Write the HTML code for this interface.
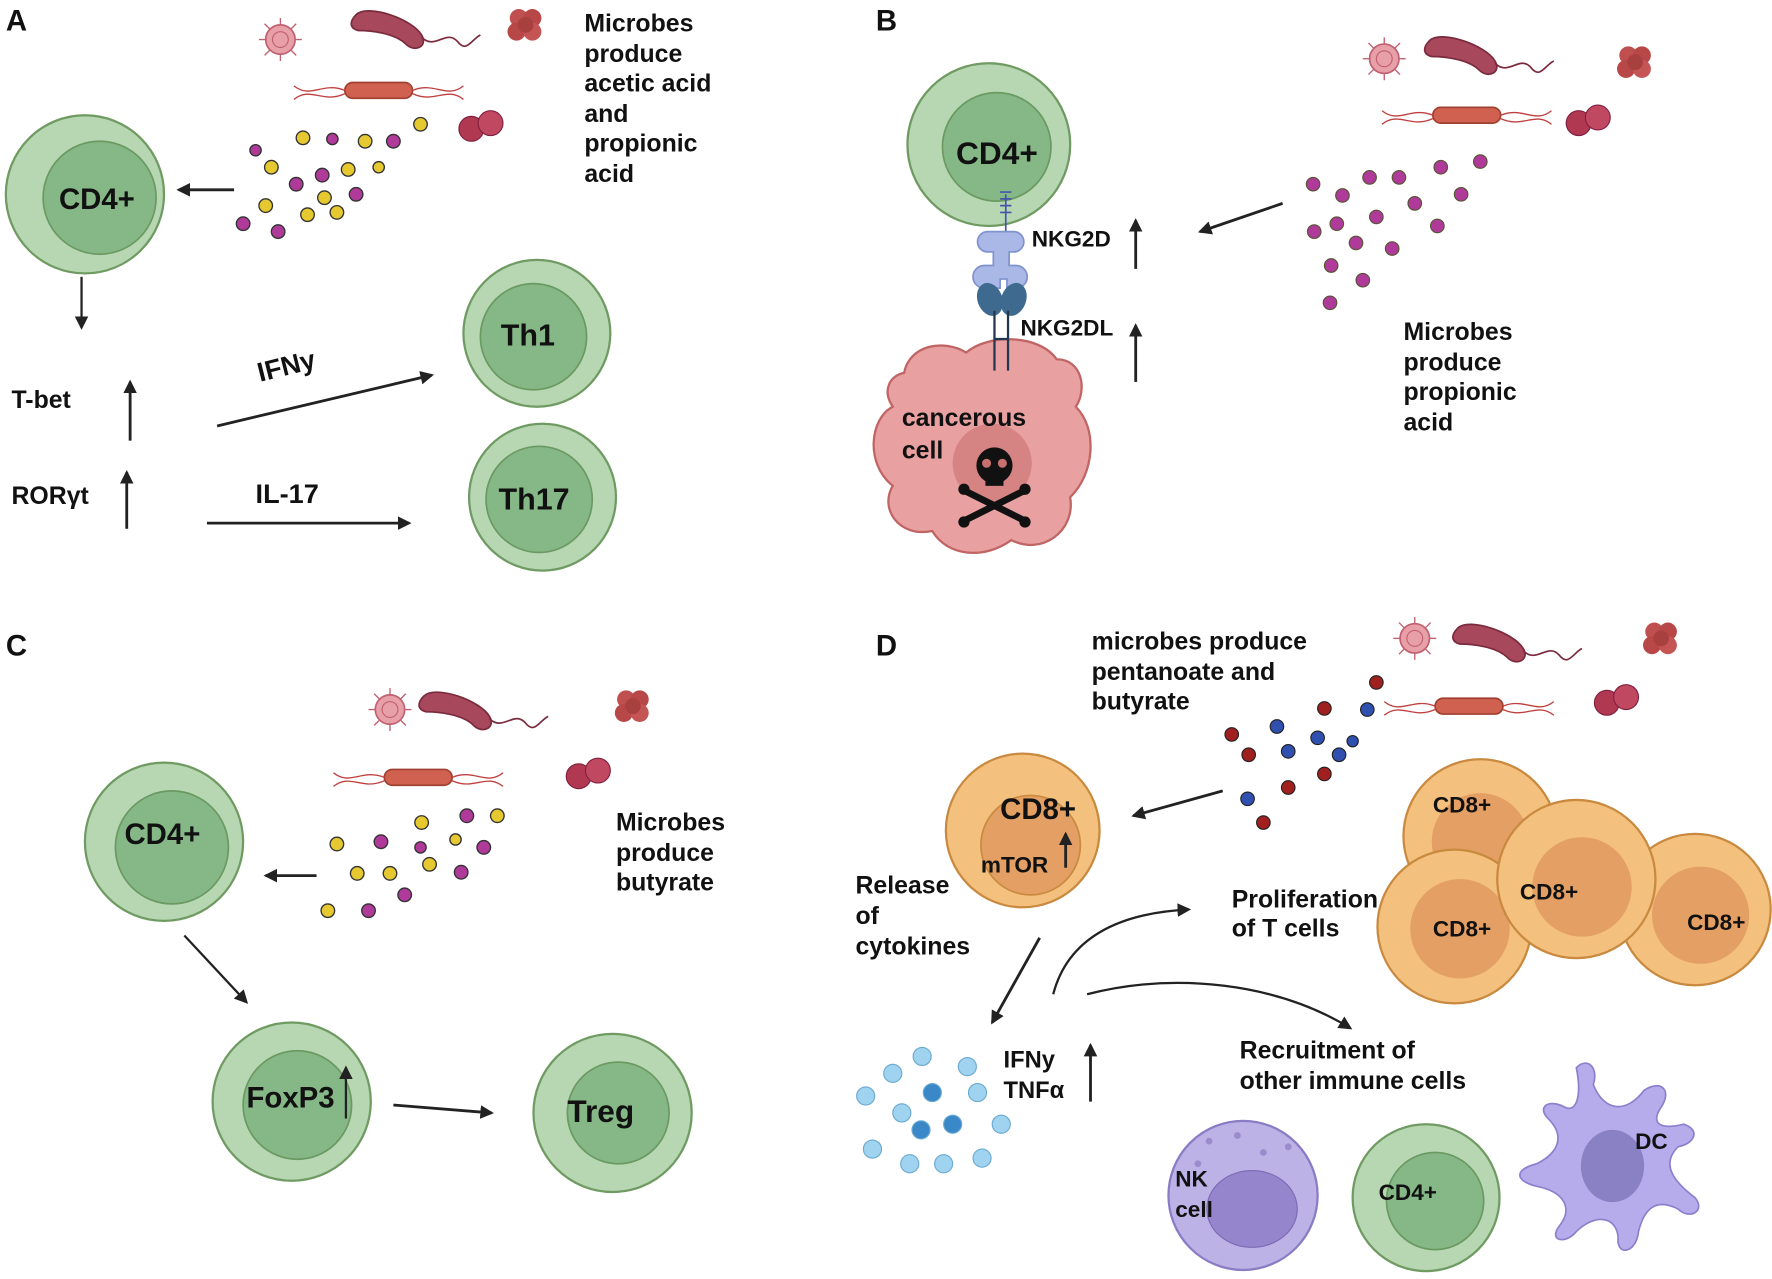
<!DOCTYPE html>
<html><head><meta charset="utf-8"><style>
html,body{margin:0;padding:0;background:#fff;}
svg{display:block;}
text{font-family:"Liberation Sans",sans-serif;font-weight:bold;fill:#111;}
</style></head><body>
<svg width="1772" height="1279" viewBox="0 0 1568 1132" xmlns="http://www.w3.org/2000/svg">
<defs>
<marker id="ah" markerWidth="12" markerHeight="12" refX="10" refY="6" orient="auto" markerUnits="userSpaceOnUse"><path d="M0,0 L12,6 L0,12 z" fill="#222"/></marker>
<g id="vir"><circle r="13" fill="#e8a0a8" stroke="#c06070" stroke-width="1.5"/><circle r="7" fill="none" stroke="#c06070" stroke-width="1"/>
<g stroke="#c06070" stroke-width="1.2"><line x1="0" y1="-13" x2="0" y2="-19"/><line x1="0" y1="13" x2="0" y2="19"/><line x1="-13" y1="0" x2="-19" y2="0"/><line x1="13" y1="0" x2="19" y2="0"/><line x1="9" y1="9" x2="14" y2="14"/><line x1="-9" y1="-9" x2="-14" y2="-14"/><line x1="9" y1="-9" x2="14" y2="-14"/><line x1="-9" y1="9" x2="-14" y2="14"/></g></g>
<g id="bac"><path d="M-30,-12 C-20,-22 20,-8 28,6 C34,16 22,22 14,14 C4,4 -18,2 -28,2 C-36,0 -36,-6 -30,-12z" fill="#a8485c" stroke="#7a2a3c" stroke-width="1.5"/><path d="M28,8 C40,20 50,0 60,12 C68,22 72,10 80,6" fill="none" stroke="#7a2a3c" stroke-width="1.5"/></g>
<g id="clu"><circle cx="-6" cy="-6" r="8" fill="#c05050"/><circle cx="6" cy="-6" r="8" fill="#b84848"/><circle cx="-8" cy="6" r="8" fill="#b84848"/><circle cx="6" cy="6" r="8" fill="#c55555"/><circle cx="0" cy="0" r="7" fill="#a84040"/></g>
<g id="rod"><rect x="-30" y="-7" width="60" height="14" rx="7" fill="#d06050" stroke="#a04030" stroke-width="1.5"/><path d="M-30,0 C-50,-8 -60,8 -75,-4 M-30,3 C-50,12 -60,-4 -75,8 M30,0 C50,-8 60,8 75,-4 M30,3 C50,12 60,-4 75,8" fill="none" stroke="#c04040" stroke-width="1.2"/></g>
<g id="dip"><circle cx="-8" cy="2" r="11" fill="#b03850" stroke="#802040"/><circle cx="9" cy="-3" r="11" fill="#c04860" stroke="#802040"/></g>
</defs>

<!-- PANEL A -->
<text x="5" y="27" font-size="26">A</text>
<use href="#vir" x="248" y="35"/><use href="#bac" x="345" y="25"/><use href="#clu" x="465" y="22"/><use href="#rod" x="335" y="80"/><use href="#dip" x="425" y="112"/>
<g font-size="22"><text x="517" y="28">Microbes</text><text x="517" y="55">produce</text><text x="517" y="81">acetic acid</text><text x="517" y="108">and</text><text x="517" y="134">propionic</text><text x="517" y="161">acid</text></g>
<circle cx="75" cy="172" r="70" fill="#b7d7b3" stroke="#6f9b62" stroke-width="2"/><circle cx="88" cy="175" r="50" fill="#85b886" stroke="#6a9a62" stroke-width="1.5"/>
<text x="52" y="185" font-size="26">CD4+</text>
<line x1="207" y1="168" x2="158" y2="168" stroke="#222" stroke-width="2.5" marker-end="url(#ah)"/>
<g stroke="#333" stroke-width="1.2">
<circle cx="268" cy="122" r="6" fill="#e6c830"/><circle cx="323" cy="125" r="6" fill="#e6c830"/><circle cx="372" cy="110" r="6" fill="#e6c830"/><circle cx="240" cy="148" r="6" fill="#e6c830"/><circle cx="308" cy="150" r="6" fill="#e6c830"/><circle cx="235" cy="182" r="6" fill="#e6c830"/><circle cx="272" cy="190" r="6" fill="#e6c830"/><circle cx="287" cy="175" r="6" fill="#e6c830"/><circle cx="298" cy="188" r="6" fill="#e6c830"/>
<circle cx="348" cy="125" r="6" fill="#b03a9a"/><circle cx="285" cy="155" r="6" fill="#b03a9a"/><circle cx="262" cy="163" r="6" fill="#b03a9a"/><circle cx="215" cy="198" r="6" fill="#b03a9a"/><circle cx="246" cy="205" r="6" fill="#b03a9a"/><circle cx="315" cy="172" r="6" fill="#b03a9a"/><circle cx="226" cy="133" r="5" fill="#b03a9a"/><circle cx="294" cy="123" r="5" fill="#b03a9a"/><circle cx="335" cy="148" r="5" fill="#e6c830"/>
</g>
<line x1="72" y1="245" x2="72" y2="290" stroke="#222" stroke-width="2" marker-end="url(#ah)"/>
<text x="10" y="361" font-size="22">T-bet</text>
<line x1="115" y1="390" x2="115" y2="338" stroke="#222" stroke-width="2.5" marker-end="url(#ah)"/>
<text x="10" y="446" font-size="22">RORγt</text>
<line x1="112" y1="468" x2="112" y2="418" stroke="#222" stroke-width="2.5" marker-end="url(#ah)"/>
<text x="230" y="338" font-size="24" transform="rotate(-14 230 338)">IFNy</text>
<line x1="192" y1="377" x2="382" y2="332" stroke="#222" stroke-width="2.5" marker-end="url(#ah)"/>
<text x="226" y="445" font-size="24">IL-17</text>
<line x1="183" y1="463" x2="362" y2="463" stroke="#222" stroke-width="2.5" marker-end="url(#ah)"/>
<circle cx="475" cy="295" r="65" fill="#b7d7b3" stroke="#6f9b62" stroke-width="2"/><circle cx="472" cy="298" r="47" fill="#85b886" stroke="#6a9a62" stroke-width="1.5"/>
<text x="443" y="306" font-size="27">Th1</text>
<circle cx="480" cy="440" r="65" fill="#b7d7b3" stroke="#6f9b62" stroke-width="2"/><circle cx="477" cy="442" r="47" fill="#85b886" stroke="#6a9a62" stroke-width="1.5"/>
<text x="441" y="451" font-size="27">Th17</text>

<!-- PANEL B -->
<text x="775" y="27" font-size="26">B</text>
<circle cx="875" cy="128" r="72" fill="#b7d7b3" stroke="#6f9b62" stroke-width="2"/><circle cx="882" cy="130" r="48" fill="#85b886" stroke="#6a9a62" stroke-width="1.5"/>
<text x="846" y="145" font-size="28">CD4+</text>
<path d="M800,330 C805,305 835,300 855,312 C875,295 920,296 935,318 C958,318 962,345 952,360 C972,380 968,420 947,440 C952,470 922,492 895,478 C870,496 838,492 825,470 C795,476 778,450 790,430 C765,410 770,370 790,360 C780,345 788,332 800,330z" fill="#e8a0a0" stroke="#c06464" stroke-width="2"/>
<ellipse cx="878" cy="410" rx="35" ry="35" fill="#c87070" opacity="0.6"/>
<line x1="890" y1="172" x2="890" y2="230" stroke="#4455aa" stroke-width="1.5"/>
<path d="M885,170 h10 M885,176 h10 M885,182 h10 M885,188 h10" stroke="#4455aa" stroke-width="1.5"/>
<path d="M882,205 h15 a8,8 0 0 1 0,18 h-4 v12 h6 a10,10 0 0 1 0,20 h-8 v-8 h-6 v8 h-14 a10,10 0 0 1 0,-20 h8 v-12 h-5 a8,8 0 0 1 0,-18z" fill="#a9b8e6" stroke="#7f92cc" stroke-width="1.5"/>
<ellipse cx="876" cy="265" rx="11" ry="15" fill="#3f6a8f" transform="rotate(-20 876 265)"/><ellipse cx="897" cy="265" rx="11" ry="15" fill="#3f6a8f" transform="rotate(20 897 265)"/>
<path d="M880,275 V328 M892,275 V328 M880,300 H892" stroke="#23384f" stroke-width="2"/>
<text x="913" y="218" font-size="20">NKG2D</text>
<line x1="1005" y1="238" x2="1005" y2="195" stroke="#222" stroke-width="2.5" marker-end="url(#ah)"/>
<text x="903" y="297" font-size="20">NKG2DL</text>
<line x1="1005" y1="338" x2="1005" y2="288" stroke="#222" stroke-width="2.5" marker-end="url(#ah)"/>
<line x1="1135" y1="180" x2="1062" y2="205" stroke="#222" stroke-width="2.5" marker-end="url(#ah)"/>
<text x="798" y="377" font-size="22">cancerous</text><text x="798" y="406" font-size="22">cell</text>
<g fill="#111"><circle cx="880" cy="412" r="16"/><rect x="872" y="420" width="16" height="10"/><path d="M855,435 L905,460 M905,435 L855,460" stroke="#111" stroke-width="6"/><circle cx="853" cy="433" r="5"/><circle cx="907" cy="433" r="5"/><circle cx="853" cy="462" r="5"/><circle cx="907" cy="462" r="5"/></g>
<circle cx="873" cy="410" r="4" fill="#c87070"/><circle cx="887" cy="410" r="4" fill="#c87070"/>
<use href="#vir" x="1225" y="52"/><use href="#bac" x="1295" y="48"/><use href="#clu" x="1447" y="55"/><use href="#rod" x="1298" y="102"/><use href="#dip" x="1405" y="107"/>
<g fill="#b03a9a" stroke="#553" stroke-width="1">
<circle cx="1162" cy="163" r="6"/><circle cx="1188" cy="173" r="6"/><circle cx="1212" cy="157" r="6"/><circle cx="1238" cy="157" r="6"/><circle cx="1252" cy="180" r="6"/><circle cx="1275" cy="148" r="6"/><circle cx="1293" cy="172" r="6"/><circle cx="1310" cy="143" r="6"/><circle cx="1163" cy="205" r="6"/><circle cx="1183" cy="198" r="6"/><circle cx="1218" cy="192" r="6"/><circle cx="1200" cy="215" r="6"/><circle cx="1232" cy="220" r="6"/><circle cx="1272" cy="200" r="6"/><circle cx="1178" cy="235" r="6"/><circle cx="1206" cy="248" r="6"/><circle cx="1177" cy="268" r="6"/>
</g>
<g font-size="22"><text x="1242" y="301">Microbes</text><text x="1242" y="328">produce</text><text x="1242" y="354">propionic</text><text x="1242" y="381">acid</text></g>

<!-- PANEL C -->
<text x="5" y="580" font-size="26">C</text>
<use href="#vir" x="345" y="628"/><use href="#bac" x="405" y="628"/><use href="#clu" x="560" y="625"/><use href="#rod" x="370" y="688"/><use href="#dip" x="520" y="685"/>
<circle cx="145" cy="745" r="70" fill="#b7d7b3" stroke="#6f9b62" stroke-width="2"/><circle cx="152" cy="750" r="50" fill="#85b886" stroke="#6a9a62" stroke-width="1.5"/>
<text x="110" y="747" font-size="26">CD4+</text>
<line x1="280" y1="775" x2="235" y2="775" stroke="#222" stroke-width="2.5" marker-end="url(#ah)"/>
<g stroke="#333" stroke-width="1.2">
<circle cx="373" cy="728" r="6" fill="#e6c830"/><circle cx="440" cy="722" r="6" fill="#e6c830"/><circle cx="298" cy="747" r="6" fill="#e6c830"/><circle cx="316" cy="773" r="6" fill="#e6c830"/><circle cx="345" cy="773" r="6" fill="#e6c830"/><circle cx="380" cy="765" r="6" fill="#e6c830"/><circle cx="290" cy="806" r="6" fill="#e6c830"/><circle cx="403" cy="743" r="5" fill="#e6c830"/>
<circle cx="337" cy="745" r="6" fill="#b03a9a"/><circle cx="413" cy="722" r="6" fill="#b03a9a"/><circle cx="428" cy="750" r="6" fill="#b03a9a"/><circle cx="408" cy="772" r="6" fill="#b03a9a"/><circle cx="358" cy="792" r="6" fill="#b03a9a"/><circle cx="326" cy="806" r="6" fill="#b03a9a"/><circle cx="372" cy="750" r="5" fill="#b03a9a"/>
</g>
<g font-size="22"><text x="545" y="735">Microbes</text><text x="545" y="762">produce</text><text x="545" y="788">butyrate</text></g>
<line x1="163" y1="828" x2="218" y2="887" stroke="#222" stroke-width="2" marker-end="url(#ah)"/>
<circle cx="258" cy="975" r="70" fill="#b7d7b3" stroke="#6f9b62" stroke-width="2"/><circle cx="263" cy="978" r="48" fill="#85b886" stroke="#6a9a62" stroke-width="1.5"/>
<text x="218" y="980" font-size="26">FoxP3</text>
<line x1="306" y1="990" x2="306" y2="945" stroke="#222" stroke-width="2" marker-end="url(#ah)"/>
<line x1="348" y1="978" x2="435" y2="985" stroke="#222" stroke-width="2.5" marker-end="url(#ah)"/>
<circle cx="542" cy="985" r="70" fill="#b7d7b3" stroke="#6f9b62" stroke-width="2"/><circle cx="547" cy="985" r="45" fill="#85b886" stroke="#6a9a62" stroke-width="1.5"/>
<text x="502" y="993" font-size="28">Treg</text>

<!-- PANEL D -->
<text x="775" y="580" font-size="26">D</text>
<g font-size="22"><text x="966" y="575">microbes produce</text><text x="966" y="602">pentanoate and</text><text x="966" y="628">butyrate</text></g>
<use href="#vir" x="1252" y="565"/><use href="#bac" x="1320" y="568"/><use href="#clu" x="1470" y="565"/><use href="#rod" x="1300" y="625"/><use href="#dip" x="1430" y="620"/>
<g stroke="#222" stroke-width="1">
<circle cx="1218" cy="604" r="6" fill="#a02020"/><circle cx="1172" cy="627" r="6" fill="#a02020"/><circle cx="1090" cy="650" r="6" fill="#a02020"/><circle cx="1105" cy="668" r="6" fill="#a02020"/><circle cx="1140" cy="697" r="6" fill="#a02020"/><circle cx="1172" cy="685" r="6" fill="#a02020"/><circle cx="1118" cy="728" r="6" fill="#a02020"/>
<circle cx="1210" cy="628" r="6" fill="#3050b0"/><circle cx="1130" cy="643" r="6" fill="#3050b0"/><circle cx="1166" cy="653" r="6" fill="#3050b0"/><circle cx="1140" cy="665" r="6" fill="#3050b0"/><circle cx="1185" cy="668" r="6" fill="#3050b0"/><circle cx="1197" cy="656" r="5" fill="#3050b0"/><circle cx="1104" cy="707" r="6" fill="#3050b0"/>
</g>
<line x1="1082" y1="700" x2="1003" y2="722" stroke="#222" stroke-width="2.5" marker-end="url(#ah)"/>
<circle cx="905" cy="735" r="68" fill="#f3c07e" stroke="#c98a40" stroke-width="2"/><circle cx="912" cy="748" r="44" fill="#e4a064" stroke="#c98a40" stroke-width="1.5"/>
<text x="885" y="725" font-size="26">CD8+</text>
<text x="868" y="772" font-size="20">mTOR</text>
<line x1="943" y1="768" x2="943" y2="738" stroke="#222" stroke-width="2.5" marker-end="url(#ah)"/>
<g font-size="22"><text x="757" y="791">Release</text><text x="757" y="818">of</text><text x="757" y="845">cytokines</text></g>
<line x1="920" y1="830" x2="878" y2="905" stroke="#222" stroke-width="2.5" marker-end="url(#ah)"/>
<path d="M932,880 C945,830 990,808 1052,805" fill="none" stroke="#222" stroke-width="2" marker-end="url(#ah)"/>
<g font-size="22"><text x="1090" y="803">Proliferation</text><text x="1090" y="829">of T cells</text></g>
<circle cx="1500" cy="805" r="67" fill="#f3c07e" stroke="#c98a40" stroke-width="2"/><circle cx="1505" cy="810" r="43" fill="#e4a064"/>
<circle cx="1310" cy="740" r="68" fill="#f3c07e" stroke="#c98a40" stroke-width="2"/><circle cx="1310" cy="745" r="43" fill="#e4a064"/>
<circle cx="1287" cy="820" r="68" fill="#f3c07e" stroke="#c98a40" stroke-width="2"/><circle cx="1292" cy="822" r="44" fill="#e4a064"/>
<circle cx="1395" cy="778" r="70" fill="#f3c07e" stroke="#c98a40" stroke-width="2"/><circle cx="1400" cy="785" r="44" fill="#e4a064"/>
<g font-size="20"><text x="1268" y="719">CD8+</text><text x="1268" y="829">CD8+</text><text x="1345" y="796">CD8+</text><text x="1493" y="823">CD8+</text></g>
<path d="M962,880 C1040,860 1130,870 1195,910" fill="none" stroke="#222" stroke-width="2" marker-end="url(#ah)"/>
<g font-size="22"><text x="1097" y="937">Recruitment of</text><text x="1097" y="964">other immune cells</text></g>
<g stroke="#6aaad0" stroke-width="1">
<circle cx="816" cy="935" r="8" fill="#9fd3ef"/><circle cx="790" cy="950" r="8" fill="#9fd3ef"/><circle cx="856" cy="944" r="8" fill="#9fd3ef"/><circle cx="766" cy="970" r="8" fill="#9fd3ef"/><circle cx="825" cy="967" r="8" fill="#3b88c8"/><circle cx="865" cy="967" r="8" fill="#9fd3ef"/><circle cx="798" cy="985" r="8" fill="#9fd3ef"/><circle cx="843" cy="995" r="8" fill="#3b88c8"/><circle cx="886" cy="995" r="8" fill="#9fd3ef"/><circle cx="815" cy="1000" r="8" fill="#3b88c8"/><circle cx="772" cy="1017" r="8" fill="#9fd3ef"/><circle cx="805" cy="1030" r="8" fill="#9fd3ef"/><circle cx="835" cy="1030" r="8" fill="#9fd3ef"/><circle cx="869" cy="1025" r="8" fill="#9fd3ef"/>
</g>
<g font-size="21"><text x="888" y="945">IFNy</text><text x="888" y="972">TNFα</text></g>
<line x1="965" y1="975" x2="965" y2="925" stroke="#222" stroke-width="2.5" marker-end="url(#ah)"/>
<circle cx="1100" cy="1058" r="66" fill="#bdb2e6" stroke="#8a7cc4" stroke-width="2"/>
<ellipse cx="1108" cy="1070" rx="40" ry="34" fill="#9585cc" stroke="#7a6ab4"/>
<g fill="#9a8ccc"><circle cx="1070" cy="1010" r="3"/><circle cx="1095" cy="1005" r="3"/><circle cx="1118" cy="1020" r="3"/><circle cx="1140" cy="1015" r="3"/><circle cx="1060" cy="1030" r="3"/></g>
<text x="1040" y="1050" font-size="20">NK</text><text x="1040" y="1077" font-size="20">cell</text>
<circle cx="1262" cy="1060" r="65" fill="#b7d7b3" stroke="#6f9b62" stroke-width="2"/><circle cx="1270" cy="1063" r="43" fill="#85b886" stroke="#6a9a62" stroke-width="1.5"/>
<text x="1220" y="1062" font-size="20">CD4+</text>
<path d="M1395,945 C1405,935 1415,945 1410,960 C1420,985 1440,985 1455,965 C1470,955 1480,965 1470,980 C1460,995 1470,1000 1490,995 C1505,1000 1500,1012 1485,1015 C1470,1030 1480,1045 1500,1060 C1510,1072 1495,1080 1485,1070 C1465,1060 1455,1070 1450,1090 C1448,1110 1430,1112 1432,1095 C1430,1075 1410,1075 1395,1090 C1385,1102 1370,1098 1380,1085 C1392,1070 1385,1055 1360,1050 C1340,1045 1340,1035 1360,1030 C1380,1020 1385,1005 1370,990 C1360,980 1370,972 1385,980 C1395,985 1400,970 1395,945z" fill="#b6acec" stroke="#8c80cc" stroke-width="1.5"/>
<ellipse cx="1427" cy="1032" rx="28" ry="32" fill="#8a80c4"/>
<text x="1447" y="1017" font-size="20">DC</text>
</svg>
</body></html>
